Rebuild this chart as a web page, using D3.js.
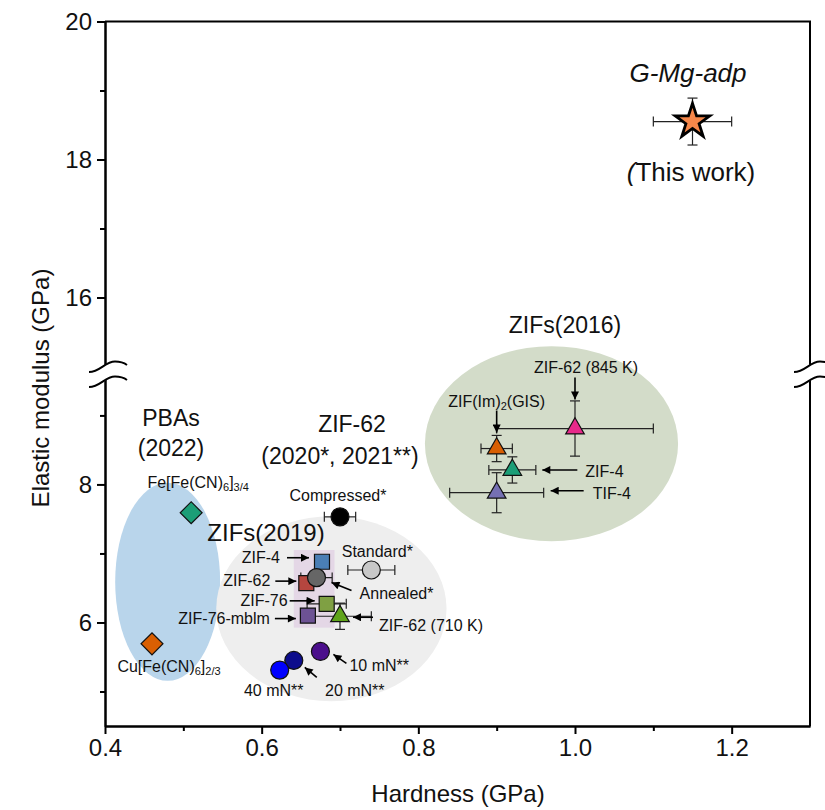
<!DOCTYPE html>
<html>
<head>
<meta charset="utf-8">
<script src="https://cdn.jsdelivr.net/npm/d3@7"></script>
<style>
  body { margin: 0; background: #fff; }
  text { font-family: "Liberation Sans", Arial, sans-serif; fill: #111; }
</style>
</head>
<body>
<script>
// ---- data (hardness h / elastic modulus e in GPa) ----
const xTicks = [0.4, 0.6, 0.8, 1.0, 1.2];
const xMinor = [0.5, 0.7, 0.9, 1.1];
const yTicksUpper = [16, 18, 20];
const yMinorUpper = [17, 19];
const yTicksLower = [6, 8];
const yMinorLower = [5, 7, 9];

const thisWork = [{ name: "G-Mg-adp", h: 1.15, e: 18.55, hErr: 0.05, eErr: 0.34 }];

const pbas = [
  { name: "Fe", h: 0.51, e: 7.59 },
  { name: "Cu", h: 0.46, e: 5.69 }
];

const zifs2016 = [
  { name: "ZIF-62 (845 K)", h: 1.0, e: 8.81, hErr: 0.1, eErr: 0.4 },
  { name: "GIS", h: 0.9, e: 8.52, hErr: 0.02, eErr: 0.19 },
  { name: "ZIF-4 (2016)", h: 0.92, e: 8.21, hErr: 0.03, eErr: 0.19 },
  { name: "TIF-4", h: 0.9, e: 7.88, hErr: 0.06, eErr: 0.29 }
];

const zifs2019 = [
  { name: "ZIF-4", h: 0.677, e: 6.88 },
  { name: "ZIF-62", h: 0.657, e: 6.57 },
  { name: "ZIF-76", h: 0.683, e: 6.27, hErr: 0.025 },
  { name: "ZIF-76-mblm", h: 0.659, e: 6.10 }
];
const zif62at710 = [{ name: "ZIF-62 (710 K)", h: 0.70, e: 6.09, hErr: 0.04, eErr: 0.19 }];

const zif62Circles = [
  { name: "Compressed*", h: 0.70, e: 7.53, hErr: 0.02 },
  { name: "Standard*", h: 0.74, e: 6.76, hErr: 0.03 },
  { name: "Annealed*", h: 0.67, e: 6.65, hErr: 0.02 },
  { name: "10 mN**", h: 0.675, e: 5.58 },
  { name: "20 mN**", h: 0.641, e: 5.45 },
  { name: "40 mN**", h: 0.623, e: 5.31 }
];

// shaded regions, data coords
const regions = [
  { name: "pba", h: 0.48, e: 6.59, rh: 0.067, re: 1.435 },
  { name: "zif62", h: 0.689, e: 6.20, rh: 0.147, re: 1.34 },
  { name: "z2016", h: 0.97, e: 8.59, rh: 0.1616, re: 1.413 }
];
const box2019 = { h0: 0.641, h1: 0.693, e0: 5.925, e1: 7.05 };

// ---- styles ----
const colors = {
  "Fe": "#1b9e77", "Cu": "#d95f02",
  "ZIF-62 (845 K)": "#e7298a", "GIS": "#d95f02", "ZIF-4 (2016)": "#1b9e77", "TIF-4": "#7570b3",
  "ZIF-4": "#4a7eb5", "ZIF-62": "#b5463f", "ZIF-76": "#7fa043", "ZIF-76-mblm": "#6d5294",
  "ZIF-62 (710 K)": "#5fa31a",
  "Compressed*": "#000", "Standard*": "#c8c8c8", "Annealed*": "#666",
  "10 mN**": "#4b0f8c", "20 mN**": "#0d0d8c", "40 mN**": "#0000ff",
  "pba": "#b9d5eb", "zif62": "#eeeeee", "z2016": "#d3dcc9"
};
const orange = "#f6874a";

const W = 825, H = 810;
const svg = d3.select("body").append("svg").attr("width", W).attr("height", H);

const x = d3.scaleLinear().domain([0.4, 1.3]).range([105, 810]);
const yUp = d3.scaleLinear().domain([15, 20]).range([366.5, 21.5]);
const yLo = d3.scaleLinear().domain([4.5, 9.6]).range([726, 374]);
const y = v => v >= 14 ? yUp(v) : yLo(v);

// regions
svg.append("g").selectAll("ellipse").data(regions).join("ellipse")
  .attr("cx", d => x(d.h)).attr("cy", d => y(d.e))
  .attr("rx", d => x(d.h + d.rh) - x(d.h)).attr("ry", d => y(d.e) - y(d.e + d.re))
  .attr("fill", d => colors[d.name]);

svg.append("rect")
  .attr("x", x(box2019.h0)).attr("y", y(box2019.e1))
  .attr("width", x(box2019.h1) - x(box2019.h0)).attr("height", y(box2019.e0) - y(box2019.e1))
  .attr("fill", "#e4d7e6");

// error bars
const allPts = [].concat(zifs2016, zifs2019, zif62at710, zif62Circles, thisWork);
const eb = svg.append("g").attr("stroke", "#222").attr("stroke-width", 1.2).attr("fill", "none");
allPts.forEach(d => {
  const cx = x(d.h), cy = y(d.e);
  if (d.hErr) {
    const x0 = x(d.h - d.hErr), x1 = x(d.h + d.hErr);
    eb.append("line").attr("x1", x0).attr("x2", x1).attr("y1", cy).attr("y2", cy);
    eb.append("line").attr("x1", x0).attr("x2", x0).attr("y1", cy - 5).attr("y2", cy + 5);
    eb.append("line").attr("x1", x1).attr("x2", x1).attr("y1", cy - 5).attr("y2", cy + 5);
  }
  if (d.eErr) {
    const y0 = y(d.e - d.eErr), y1 = y(d.e + d.eErr);
    eb.append("line").attr("x1", cx).attr("x2", cx).attr("y1", y0).attr("y2", y1);
    eb.append("line").attr("x1", cx - 5).attr("x2", cx + 5).attr("y1", y0).attr("y2", y0);
    eb.append("line").attr("x1", cx - 5).attr("x2", cx + 5).attr("y1", y1).attr("y2", y1);
  }
});

// markers
function drawSymbols(data, type, size, rotate) {
  svg.append("g").selectAll("path").data(data).join("path")
    .attr("d", d3.symbol().type(type).size(size))
    .attr("transform", d => `translate(${x(d.h)},${y(d.e)})` + (rotate ? ` rotate(${rotate})` : ""))
    .attr("fill", d => colors[d.name])
    .attr("stroke", "#111").attr("stroke-width", 1.2);
}
drawSymbols(pbas, d3.symbolSquare, 240, 45);
drawSymbols(zifs2019, d3.symbolSquare, 225);
drawSymbols(zif62Circles, d3.symbolCircle, 254);
drawSymbols(zifs2016, d3.symbolTriangle, 150);
drawSymbols(zif62at710, d3.symbolTriangle, 150);

svg.append("g").selectAll("path").data(thisWork).join("path")
  .attr("d", d3.symbol().type(d3.symbolStar).size(370))
  .attr("transform", d => `translate(${x(d.h)},${y(d.e)})`)
  .attr("fill", orange).attr("stroke", "#000").attr("stroke-width", 2.8)
  .attr("stroke-linejoin", "miter");

// ---- axes ----
const axisStyle = g => {
  g.selectAll(".domain").attr("stroke", "#000").attr("stroke-width", 2);
  g.selectAll(".tick line").attr("stroke", "#000").attr("stroke-width", 2);
  g.selectAll(".tick text").attr("font-size", 24).attr("font-family", "Liberation Sans, Arial").attr("fill", "#111");
};
svg.append("g").attr("transform", "translate(0,726)")
  .call(d3.axisBottom(x).tickValues(xTicks).tickFormat(d3.format(".1f")).tickSize(8).tickSizeOuter(0).tickPadding(5))
  .call(axisStyle);
svg.append("g").attr("transform", "translate(0,726)")
  .call(d3.axisBottom(x).tickValues(xMinor).tickFormat("").tickSize(5).tickSizeOuter(0))
  .call(axisStyle);

[[yUp, yTicksUpper, yMinorUpper], [yLo, yTicksLower, yMinorLower]].forEach(([sc, maj, mn]) => {
  svg.append("g").attr("transform", "translate(105,0)")
    .call(d3.axisLeft(sc).tickValues(maj).tickFormat(d3.format("d")).tickSize(8).tickSizeOuter(0).tickPadding(5))
    .call(axisStyle);
  svg.append("g").attr("transform", "translate(105,0)")
    .call(d3.axisLeft(sc).tickValues(mn).tickFormat("").tickSize(5).tickSizeOuter(0))
    .call(axisStyle);
  // right frame
  svg.append("line").attr("x1", 810).attr("x2", 810)
    .attr("y1", sc.range()[0]).attr("y2", sc.range()[1])
    .attr("stroke", "#000").attr("stroke-width", 2);
});
svg.append("line").attr("x1", 105).attr("x2", 811).attr("y1", 21.5).attr("y2", 21.5)
  .attr("stroke", "#000").attr("stroke-width", 2);

// axis breaks
const tilde = "M-16,6 C-5,6 0,-4.5 10,-4.5 C15,-4.5 20,-2.5 22,-1";
[105, 810].forEach(ax => {
  const g = svg.append("g").attr("transform", `translate(${ax},0)`);
  g.append("path").attr("d", tilde).attr("transform", "translate(0,373.5)")
    .attr("stroke", "#fff").attr("stroke-width", 14).attr("fill", "none");
  [366, 381].forEach(by => {
    g.append("path").attr("d", tilde).attr("transform", `translate(0,${by})`)
      .attr("stroke", "#000").attr("stroke-width", 2).attr("fill", "none");
  });
});

// axis titles
svg.append("text").attr("x", 458).attr("y", 793).attr("text-anchor", "middle")
  .attr("dominant-baseline", "central").attr("font-size", 24).text("Hardness (GPa)");
svg.append("text").attr("transform", "translate(40,388) rotate(-90)").attr("text-anchor", "middle")
  .attr("dominant-baseline", "central").attr("font-size", 24).text("Elastic modulus (GPa)");

// ---- annotations ----
const ptByName = {};
allPts.concat(pbas).forEach(d => ptByName[d.name] = d);

function label(t, cx, cy, size, anchor, fill) {
  return svg.append("text").attr("x", cx).attr("y", cy).attr("font-size", size)
    .attr("text-anchor", anchor || "middle").attr("dominant-baseline", "central")
    .attr("fill", fill || "#111").text(t);
}

// group titles
label("PBAs", 171, 418, 23);
label("(2022)", 171, 448, 23);
label("ZIF-62", 352, 424, 23);
label("(2020*, 2021**)", 340, 456, 23);
label("ZIFs(2019)", 266, 532, 24);
label("ZIFs(2016)", 565, 325, 23);
label("G-Mg-adp", 688, 73, 26, "middle", orange).attr("font-style", "italic");
const tw = label("", 691, 172, 26, "middle", orange);
tw.append("tspan").attr("font-style", "italic").text("(");
tw.append("tspan").text("This work)");

// point labels, offsets relative to the marker
const pointLabels = [
  ["ZIF-62 (845 K)", "ZIF-62 (845 K)", 11, -61, "middle"],
  ["ZIF-4 (2016)", "ZIF-4", 73, 2, "start"],
  ["TIF-4", "TIF-4", 96, 1, "start"],
  ["ZIF-4", "ZIF-4", -42, -4, "end"],
  ["ZIF-62", "ZIF-62", -36, -3, "end"],
  ["ZIF-76", "ZIF-76", -39, -3, "end"],
  ["ZIF-76-mblm", "ZIF-76-mblm", -38, 3, "end"],
  ["ZIF-62 (710 K)", "ZIF-62 (710 K)", 39, 9, "start"],
  ["Compressed*", "Compressed*", -2, -21, "middle"],
  ["Standard*", "Standard*", 6, -19, "middle"],
  ["Annealed*", "Annealed*", 80, 16, "middle"],
  ["10 mN**", "10 mN**", 29, 14, "start"],
  ["20 mN**", "20 mN**", 61, 30, "middle"],
  ["40 mN**", "40 mN**", -6, 20, "middle"]
];
pointLabels.forEach(([key, t, dx, dy, anc]) => {
  const p = ptByName[key];
  label(t, x(p.h) + dx, y(p.e) + dy, 16, anc);
});

// labels with subscripts
function subLabel(key, parts, dx, dy) {
  const p = ptByName[key];
  const t = label("", x(p.h) + dx, y(p.e) + dy, 16, "middle");
  let down = false;
  parts.forEach(([s, sub]) => {
    const ts = t.append("tspan").text(s);
    if (sub) { ts.attr("font-size", 11).attr("dy", down ? 0 : 5); down = true; }
    else { ts.attr("dy", down ? -5 : 0); down = false; }
  });
}
subLabel("Fe", [["Fe[Fe(CN)"], ["6", 1], ["]"], ["3/4", 1]], 7, -31);
subLabel("Cu", [["Cu[Fe(CN)"], ["6", 1], ["]"], ["2/3", 1]], 17, 22);
subLabel("GIS", [["ZIF(Im)"], ["2", 1], ["(GIS)"]], 0, -48);

// arrows
svg.append("defs").append("marker").attr("id", "ah")
  .attr("viewBox", "0 0 10 10").attr("refX", 10).attr("refY", 5)
  .attr("markerWidth", 10).attr("markerHeight", 8).attr("markerUnits", "userSpaceOnUse")
  .attr("orient", "auto")
  .append("path").attr("d", "M0,0 L10,5 L0,10 Z").attr("fill", "#000");

const arrows = [
  ["ZIF-62 (845 K)", 0, -51, 0, -29],
  ["GIS", 0, -38, 0, -16],
  ["ZIF-4 (2016)", 65, 0, 30, 0],
  ["TIF-4", 87, -2, 54, -2],
  ["ZIF-4", -35, -4, -13, -4],
  ["ZIF-62", -31, -2, -10, -2],
  ["ZIF-76", -37, -3, -12, -3],
  ["ZIF-76-mblm", -33, 3, -12, 3],
  ["ZIF-62 (710 K)", 33, 1, 13, 1],
  ["Annealed*", 35, 13, 15, 5],
  ["10 mN**", 26, 12, 13, 3],
  ["20 mN**", 23, 17, 11, 7]
];
svg.append("g").selectAll("line").data(arrows).join("line")
  .attr("x1", d => x(ptByName[d[0]].h) + d[1]).attr("y1", d => y(ptByName[d[0]].e) + d[2])
  .attr("x2", d => x(ptByName[d[0]].h) + d[3]).attr("y2", d => y(ptByName[d[0]].e) + d[4])
  .attr("stroke", "#000").attr("stroke-width", 1.6).attr("marker-end", "url(#ah)");
</script>
</body>
</html>
